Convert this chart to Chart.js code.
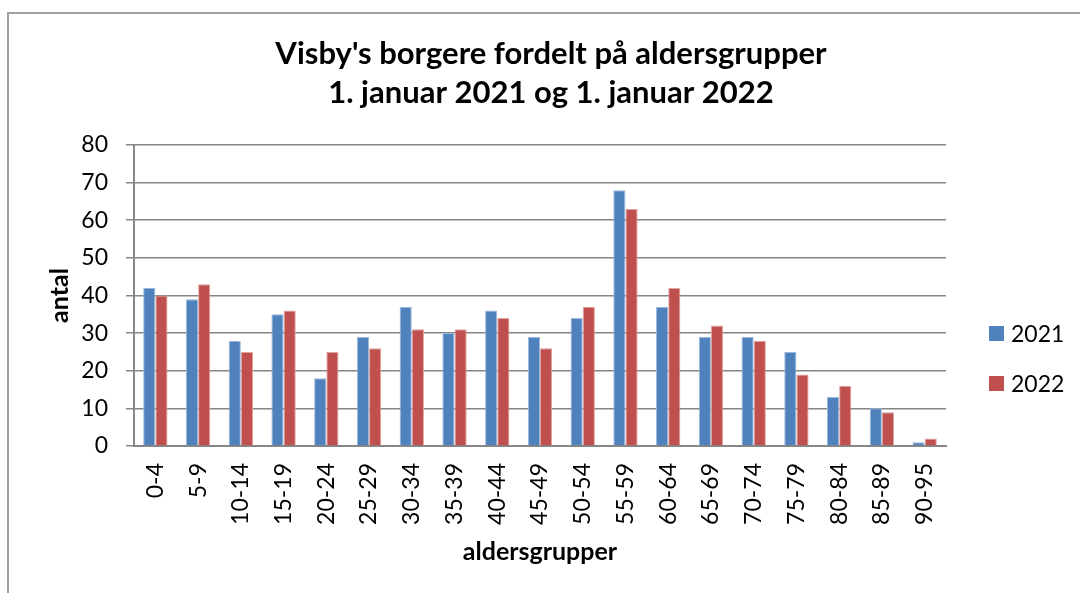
<!DOCTYPE html>
<html>
<head>
<meta charset="utf-8">
<script src="https://cdn.jsdelivr.net/npm/chart.js@4/dist/chart.umd.min.js"></script>
<style>
  html, body { margin: 0; padding: 0; background: #fff; width: 1080px; height: 593px; overflow: hidden; }
  #frame { position: absolute; left: 7px; top: 12px; width: 1200px; height: 700px; border-left: 2px solid #a0a0a0; border-top: 2px solid #a0a0a0; }
  #c { position: absolute; left: 0; top: 0; }
  .leg { position: absolute; left: 989px; font-family: Lato, "Liberation Sans", sans-serif; font-size: 23px; color: #000; display: flex; align-items: center; height: 16px; }
  .leg span.sw { display: inline-block; width: 15px; height: 15px; margin-right: 7px; }
</style>
</head>
<body>
<div id="frame"></div>
<canvas id="c" width="1080" height="593"></canvas>
<div class="leg" style="top:325px"><span class="sw" style="background:#4F81BD"></span>2021</div>
<div class="leg" style="top:375px"><span class="sw" style="background:#C0504D"></span>2022</div>
<script>
const categories = ["0-4","5-9","10-14","15-19","20-24","25-29","30-34","35-39","40-44","45-49","50-54","55-59","60-64","65-69","70-74","75-79","80-84","85-89","90-95"];
const values2021 = [42,39,28,35,18,29,37,30,36,29,34,68,37,29,29,25,13,10,1];
const values2022 = [40,43,25,36,25,26,31,31,34,26,37,63,42,32,28,19,16,9,2];
const seriesNames = ["2021","2022"];
const titleLines = ["Visby's borgere fordelt på aldersgrupper","1. januar 2021 og 1. januar 2022"];
const yMin = 0, yMax = 80, yStep = 10;

const FONT = 'Lato, "Liberation Sans", sans-serif';
const gridColor = '#868686';

new Chart(document.getElementById('c'), {
  type: 'bar',
  data: {
    labels: categories,
    datasets: [
      { label: seriesNames[0], data: values2021, backgroundColor: '#4F81BD', borderColor: '#9DB8DC', borderWidth: {top:1,left:1,right:1,bottom:0}, categoryPercentage: 0.57, barPercentage: 1.0, yAxisID: 'y' },
      { label: seriesNames[1], data: values2022, backgroundColor: '#C0504D', borderColor: '#E0A3A1', borderWidth: {top:1,left:1,right:1,bottom:0}, categoryPercentage: 0.57, barPercentage: 1.0, yAxisID: 'y' }
    ]
  },
  options: {
    responsive: false,
    animation: false,
    devicePixelRatio: 1,
    layout: { padding: { left: 22, right: 0, top: 0, bottom: 0 } },
    plugins: {
      legend: { display: false },
      tooltip: { enabled: false },
      title: {
        display: true,
        text: titleLines,
        color: '#000',
        font: { family: FONT, size: 31, weight: 'bold', lineHeight: 1.258 },
        padding: { top: 34.5, bottom: 32.5 }
      }
    },
    scales: {
      x: {
        grid: { display: false, drawTicks: false },
        border: { display: true, color: gridColor, width: 2 },
        ticks: { color: '#000', font: { family: FONT, size: 23 }, minRotation: 90, maxRotation: 90, padding: 17, autoSkip: false },
        title: { display: true, text: 'aldersgrupper', color: '#000', font: { family: FONT, size: 25, weight: 'bold' }, padding: { top: 0, bottom: 26 } },
        afterFit: (s) => { s.height = 147; }
      },
      y: {
        position: 'left',
        min: yMin, max: yMax,
        grid: { color: gridColor, lineWidth: 1.5, tickLength: 8, drawTicks: true },
        border: { display: true, color: gridColor, width: 2 },
        ticks: { stepSize: yStep, color: '#000', font: { family: FONT, size: 23 }, padding: 18 },
        title: { display: true, text: 'antal', color: '#000', font: { family: FONT, size: 25, weight: 'bold' }, padding: { top: 23, bottom: 0 } },
        afterFit: (s) => { s.width = 112; }
      },
      yRight: {
        position: 'right',
        display: true,
        grid: { display: false, drawTicks: false },
        border: { display: false },
        ticks: { display: false },
        afterFit: (s) => { s.width = 134; }
      }
    }
  }
});
</script>
</body>
</html>
